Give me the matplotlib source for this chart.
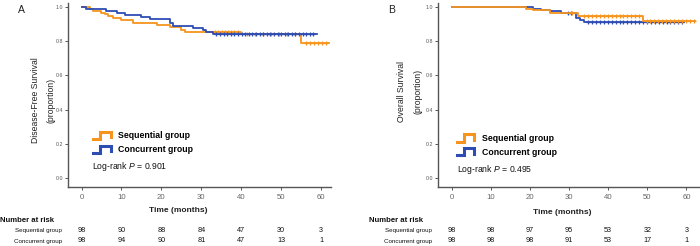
import numpy as np
import matplotlib
matplotlib.use('Agg')
import matplotlib.pyplot as plt
from matplotlib.legend_handler import HandlerBase
from matplotlib.lines import Line2D
from matplotlib.transforms import blended_transform_factory

plt.rcParams['font.family'] = ['Liberation Sans', 'DejaVu Sans']
plt.rcParams['mathtext.fontset'] = 'custom'
plt.rcParams['mathtext.it'] = 'Liberation Sans:italic'
plt.rcParams['mathtext.rm'] = 'Liberation Sans'

# ---------------- data ----------------
groups = ['Sequential group', 'Concurrent group']

# Panel A: Disease-free survival (step times in months, survival after each step)
dfs_seq_t = [0, 2.1, 2.9, 4.8, 5.8, 6.7, 7.9, 10.0, 12.9, 18.8, 22.1, 25.0, 25.9, 40.0, 55.1, 62.0]
dfs_seq_s = [1.0, 0.99, 0.98, 0.969, 0.958, 0.947, 0.936, 0.925, 0.91, 0.896, 0.884, 0.866, 0.855, 0.843, 0.79, 0.79]
dfs_seq_cens = [33.5, 34.3, 35.1, 35.9, 36.7, 37.5, 38.3, 39.1, 41.5, 43.5, 45.5, 47.5, 49.5, 51.5, 53.5,
                56.3, 57.3, 58.3, 59.3, 60.3, 61.3]
dfs_con_t = [0, 1.1, 6.2, 8.8, 10.8, 15.0, 17.1, 22.1, 23.0, 28.0, 30.5, 31.3, 33.0, 59.0]
dfs_con_s = [1.0, 0.99, 0.978, 0.965, 0.953, 0.941, 0.93, 0.905, 0.893, 0.88, 0.868, 0.857, 0.846, 0.846]
dfs_con_cens = [33.8, 34.7, 35.6, 36.5, 37.4, 38.3, 39.2, 40.1, 41.0, 41.9, 42.8, 43.7, 44.6, 45.5, 46.4,
                47.3, 48.2, 49.1, 50.0, 50.9, 51.8, 52.7, 53.6, 54.5, 55.4, 56.3, 57.2, 58.1]

# Panel B: Overall survival
os_seq_t = [0, 18.9, 20.9, 25.1, 32.2, 48.8, 62.3]
os_seq_s = [1.0, 0.99, 0.982, 0.969, 0.951, 0.922, 0.922]
os_seq_cens = [30.8, 33.9, 34.9, 35.9, 36.9, 37.9, 38.9, 39.9, 40.9, 41.9, 42.9, 43.9, 44.9, 45.9, 46.9, 47.9,
               49.8, 50.8, 51.8, 52.8, 53.8, 54.8, 55.8, 56.8, 57.8, 58.8, 59.8, 60.8, 61.8]
os_con_t = [0, 20.8, 22.9, 25.1, 28.0, 31.8, 32.8, 33.9, 59.4]
os_con_s = [1.0, 0.99, 0.982, 0.977, 0.969, 0.936, 0.925, 0.912, 0.912]
os_con_cens = [29.6, 30.6, 34.9, 35.9, 36.9, 37.9, 38.9, 39.9, 40.9, 41.9, 42.9, 43.9, 44.9, 45.9, 46.9, 47.9,
               48.9, 49.9, 50.9, 51.9, 52.9, 53.9, 54.9, 55.9, 56.9, 57.9, 58.9]

risk_times = [0, 10, 20, 30, 40, 50, 60]
dfs_risk_seq = [98, 90, 88, 84, 47, 30, 3]
dfs_risk_con = [98, 94, 90, 81, 47, 13, 1]
os_risk_seq = [98, 98, 97, 95, 53, 32, 3]
os_risk_con = [98, 98, 98, 91, 53, 17, 1]

ylabels = [['Disease-Free Survival', '(proportion)'], ['Overall Survival', '(proportion)']]
pvals = ['0.901', '0.495']
panel_letters = ['A', 'B']

ORANGE = '#F7941E'
BLUE = '#2E4DB3'

W, H = 700, 246
fig = plt.figure(figsize=(W / 100, H / 100), dpi=100)


def fx(px):
    return px / W


def fy(py):
    return 1 - py / H


class StepHandler(HandlerBase):
    def create_artists(self, legend, orig_handle, xdescent, ydescent, width, height, fontsize, trans):
        x0, y0 = -xdescent, -ydescent
        xs = [x0, x0 + 0.4 * width, x0 + 0.4 * width, x0 + width, x0 + width]
        ys = [y0, y0, y0 + height, y0 + height, y0 + 0.25 * height]
        ln = Line2D(xs, ys, color=orig_handle.get_color(), lw=2.2, solid_joinstyle='miter')
        ln.set_transform(trans)
        return [ln]


def step_val(t, s, c):
    idx = np.searchsorted(np.asarray(t), np.asarray(c), side='right') - 1
    return np.asarray(s)[idx]


panels = [
    dict(left=68, right=331, xlim=(-3.4, 62.5),
         curves=[(dfs_seq_t, dfs_seq_s, dfs_seq_cens, ORANGE, 2), (dfs_con_t, dfs_con_s, dfs_con_cens, BLUE, 3)],
         risk=[dfs_risk_seq, dfs_risk_con], ylab_x=(35, 51), ylab_y=100, letter=(21.7, 10),
         leg=(93, 131.5), lr=(91.7, 166.7), xlab=(178, 210.7), nar=(0, 221), rowlab_r=61.7),
    dict(left=438, right=699, xlim=(-3.5, 63.2),
         curves=[(os_con_t, os_con_s, os_con_cens, BLUE, 2), (os_seq_t, os_seq_s, os_seq_cens, ORANGE, 3)],
         risk=[os_risk_seq, os_risk_con], ylab_x=(401.7, 417.7), ylab_y=91, letter=(391.7, 10),
         leg=(457, 134), lr=(456.7, 170), xlab=(562, 212), nar=(369.3, 221), rowlab_r=431.7),
]

top_px, bot_px = 3, 186.7
ylim = (-(bot_px - 177.7) / 170.4, 1 + (7.3 - top_px) / 170.4)

for i, p in enumerate(panels):
    ax = fig.add_axes([fx(p['left']), fy(bot_px), (p['right'] - p['left']) / W, (bot_px - top_px) / H])
    for t, s, cens, col, z in p['curves']:
        ax.step(t, s, where='post', color=col, lw=1.3, zorder=z)
        ax.plot(cens, step_val(t, s, cens), linestyle='none', marker='+', ms=3.2, mew=0.9,
                color=col, zorder=z)
    ax.set_xlim(*p['xlim'])
    ax.set_ylim(*ylim)
    ax.set_xticks(risk_times)
    ax.set_yticks([0, 0.2, 0.4, 0.6, 0.8, 1.0])
    ax.set_yticklabels(['0.0', '0.2', '0.4', '0.6', '0.8', '1.0'])
    for sp in ['top', 'right']:
        ax.spines[sp].set_visible(False)
    for sp in ['left', 'bottom']:
        ax.spines[sp].set_color('#555555')
        ax.spines[sp].set_linewidth(1.0)
    ax.tick_params(axis='x', direction='out', length=2.5, width=0.7, colors='#555555',
                   labelsize=5.6, pad=2.5, labelcolor='#666666')
    ax.tick_params(axis='y', direction='out', length=2.5, width=0.7, colors='#555555',
                   labelsize=3.8, pad=1.2, labelcolor='#555555')

    # legend
    h_seq = Line2D([], [], color=ORANGE)
    h_con = Line2D([], [], color=BLUE)
    leg = ax.legend([h_seq, h_con], groups, handler_map={Line2D: StepHandler()},
                    loc='upper left', bbox_to_anchor=(fx(p['leg'][0]), fy(p['leg'][1])),
                    bbox_transform=fig.transFigure, frameon=False, borderpad=0, borderaxespad=0,
                    handlelength=2.0, handleheight=0.9, handletextpad=0.9, labelspacing=0.55,
                    prop={'size': 6.3, 'weight': 'bold'})

    fig.text(fx(p['lr'][0]), fy(p['lr'][1]), 'Log-rank $P$ = ' + pvals[i], fontsize=6.2,
             ha='left', va='center', color='#111111')

    # y labels
    fig.text(fx(p['ylab_x'][0]), fy(p['ylab_y']), ylabels[i][0], rotation=90, fontsize=6.2,
             ha='center', va='center', color='#222222')
    fig.text(fx(p['ylab_x'][1]), fy(p['ylab_y']), ylabels[i][1], rotation=90, fontsize=6.2,
             ha='center', va='center', color='#222222')

    fig.text(fx(p['letter'][0]), fy(p['letter'][1]), panel_letters[i], fontsize=7.5,
             ha='center', va='center', color='#222222')

    fig.text(fx(p['xlab'][0]), fy(p['xlab'][1]), 'Time (months)', fontsize=6.0, weight='bold',
             ha='center', va='center', color='#222222')

    # number at risk table
    fig.text(fx(p['nar'][0]), fy(p['nar'][1]), 'Number at risk', fontsize=5.6, weight='bold',
             ha='left', va='center', color='#111111')
    trans = blended_transform_factory(ax.transData, fig.transFigure)
    for row, (vals, ypx) in enumerate(zip(p['risk'], [230.7, 241])):
        fig.text(fx(p['rowlab_r']), fy(ypx), groups[row], fontsize=4.5, ha='right', va='center',
                 color='#111111')
        for tt, v in zip(risk_times, vals):
            ax.text(tt, fy(ypx), str(v), transform=trans, fontsize=5.2, ha='center', va='center',
                    color='#111111', clip_on=False)

fig.savefig('out.png', dpi=100)
